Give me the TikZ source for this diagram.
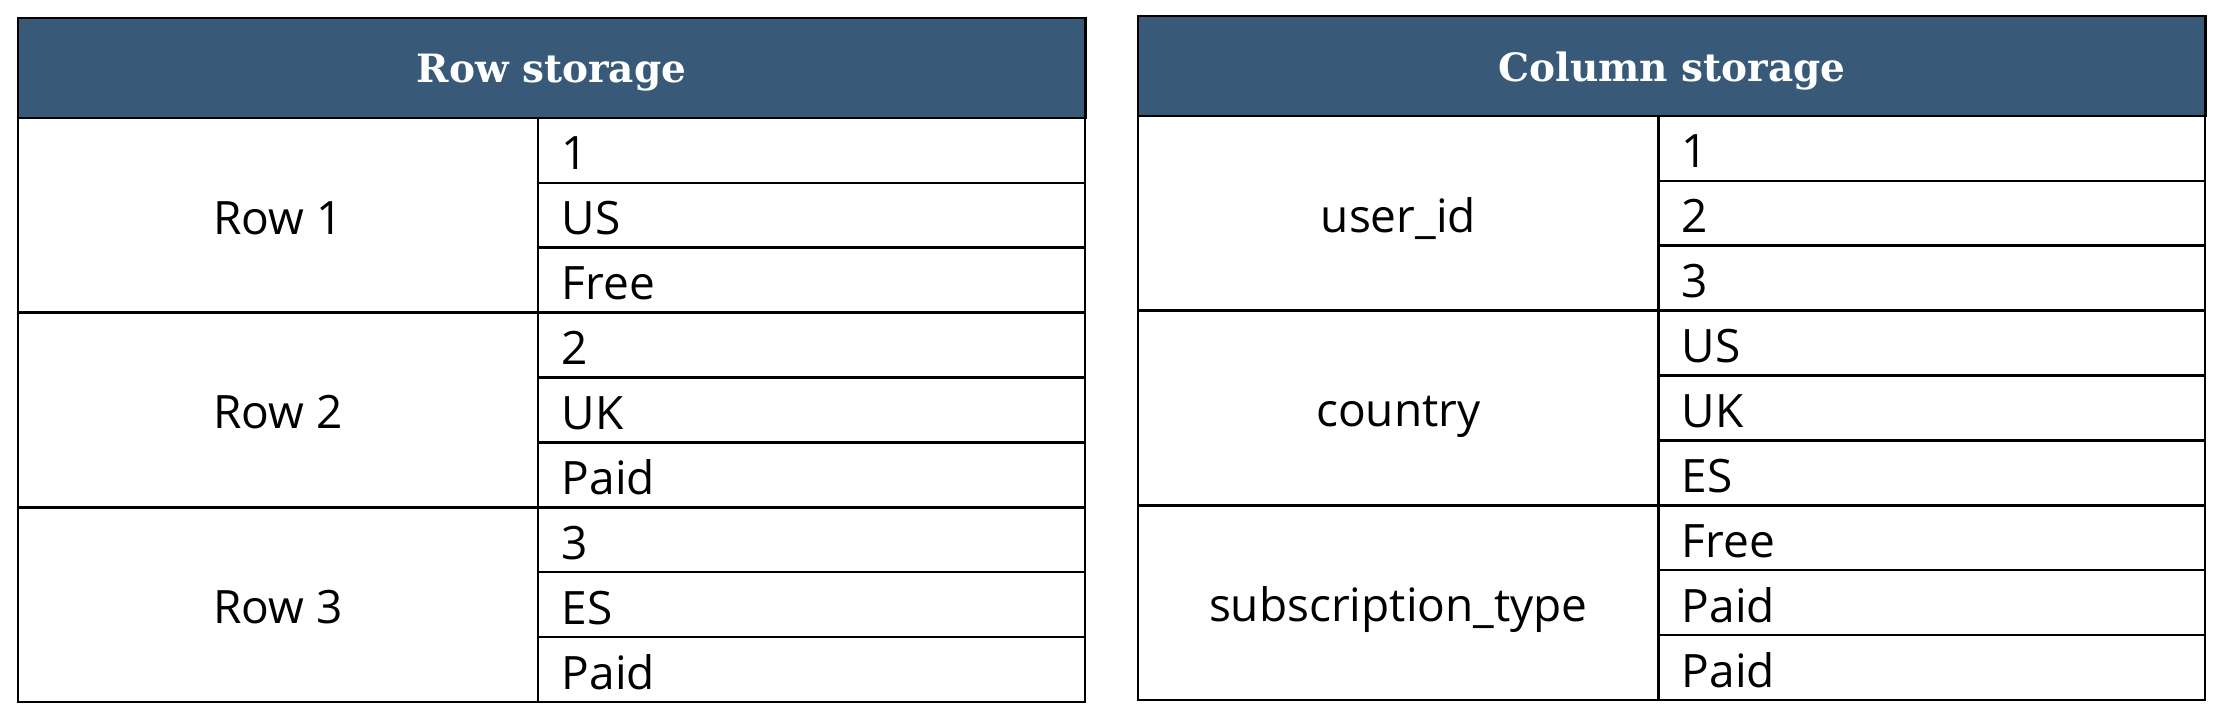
\documentclass[tikz,border=0pt]{standalone}
\usepackage{fontspec}
\setmainfont{Open Sans}
\newfontfamily\hdrfont{DejaVu Serif}
\usepackage{tikz}

\definecolor{hdrblue}{RGB}{56,90,120}

\tikzset{
  hdr/.style={draw, fill=hdrblue, text=white, anchor=north west, inner sep=0pt,
    minimum width=533.7pt, minimum height=50pt,
    font=\hdrfont\bfseries\fontsize{19.5}{22}\selectfont, text height=15pt, text depth=0pt},
  keycell/.style={draw, anchor=north west, inner sep=0pt,
    minimum width=260.15pt, minimum height=97.35pt,
    font=\fontsize{23}{27}\selectfont, text height=19pt, text depth=0pt},
  valcell/.style={draw, anchor=north west, inner ysep=0pt, inner xsep=11.85pt,
    text width=249.8pt, align=left, minimum height=32.45pt,
    font=\fontsize{23}{27}\selectfont, text height=19.5pt, text depth=0pt}
}

\begin{document}
\begin{tikzpicture}[x=0.5pt,y=-0.5pt,line width=1.2pt]
	\useasboundingbox (0,0) rectangle (2220,716);

	% row storage
	\foreach \lab [count=\i from 0] in {Row 1,Row 2,Row 3}
	\node[keycell] (rowkey\i) at (16.7,116.7+194.7*\i) {\lab};
	\foreach \val [count=\j from 0] in {1,US,Free,2,UK,Paid,3,ES,Paid}
	\node[valcell] (rowval\j) at (537,116.7+64.9*\j) {\val};
	\node[hdr] (rowhdr) at (16.7,16.7) {Row storage};

	% column storage
	\foreach \lab [count=\i from 0] in {user\_id,country,subscription\_type}
	\node[keycell] (colkey\i) at (1137,114.7+194.7*\i) {\lab};
	\foreach \val [count=\j from 0] in {1,2,3,US,UK,ES,Free,Paid,Paid}
	\node[valcell] (colval\j) at (1657,114.7+64.9*\j) {\val};
	\node[hdr] (colhdr) at (1137,15) {Column storage};
\end{tikzpicture}
\end{document}
